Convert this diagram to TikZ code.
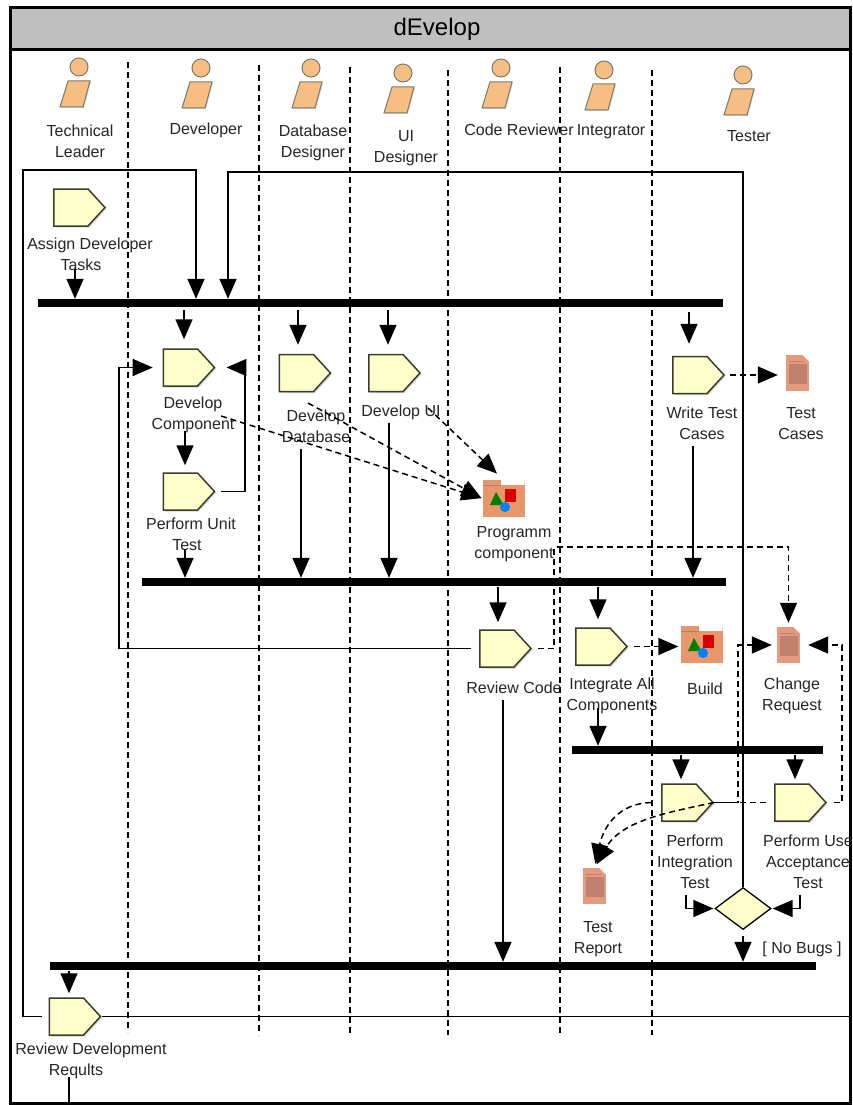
\documentclass[tikz,border=0pt]{standalone}
\usepackage{fontspec}
\setmainfont{Liberation Sans}
\usetikzlibrary{shapes.geometric, shapes.symbols, arrows.meta, shadows}
\definecolor{taskfill}{HTML}{FFFFCC}
\definecolor{taskline}{HTML}{3C3C2C}
\definecolor{actorfill}{HTML}{F6BE82}
\definecolor{actorline}{HTML}{7A7A6A}
\definecolor{docfill}{HTML}{E59A80}
\definecolor{docdark}{HTML}{C08070}
\definecolor{folderfill}{HTML}{E8966A}
\tikzstyle{lane} = [draw=black, line width=1.3pt, dash pattern=on 6pt off 4pt]
\tikzstyle{task} = [signal, signal to=east, signal pointer angle=95, xshift=-8.5pt, minimum width=51, minimum height=37, inner sep=0, draw=taskline, line width=1.5pt, fill=taskfill, drop shadow={opacity=0.3, shadow xshift=1.5pt, shadow yshift=-1.5pt}]
\tikzstyle{bar} = [rectangle, minimum height=8, inner sep=0, fill=black]
\tikzstyle{decision} = [diamond, minimum width=56, minimum height=42, inner sep=0, draw=black, line width=1.3pt, fill=taskfill]
\tikzstyle{lbl} = [align=center, inner sep=0, font=\fontsize{16}{21}\selectfont, text=black!85]
\tikzstyle{edge} = [line width=1.5pt, -{Triangle[width=17pt, length=20pt]}]
\tikzstyle{plain} = [line width=1.5pt]
\tikzstyle{dashedge} = [edge, dash pattern=on 6pt off 4pt]
\tikzstyle{doc} = [rectangle, minimum width=23, minimum height=36, inner sep=0, fill=docfill, path picture={
  \begin{scope}[shift={(path picture bounding box.center)}]
  \fill [white] (4.5,-18.5) -- (12,-18.5) -- (12,-11) -- cycle;
  \draw [docdark, line width=0.7pt] (-9,-12) -- (6,-12);
  \fill [docdark] (-9,-9) rectangle (9,11);
  \end{scope}}]
\tikzstyle{folder} = [rectangle, minimum width=42, minimum height=37, inner sep=0, fill=folderfill, path picture={
  \begin{scope}[shift={(path picture bounding box.center)}]
  \fill [white] (-3,-19) rectangle (22,-13.5);
  \draw [black!45, line width=0.7pt] (-21,-13.5) -- (-3,-13.5);
  \fill [red!85!black] (1.5,-9.5) rectangle (12.5,3.5);
  \fill [green!50!black] (-7.5,-6.5) -- (-13.5,6.5) -- (0,6.5) -- cycle;
  \fill [blue!50!cyan] (1.5,8.5) circle (5);
  \end{scope}}]
\tikzset{actor/.pic={
  \draw [actorline, line width=1pt, fill=actorfill] (0,0) circle (9);
  \draw [actorline, line width=1pt, fill=actorfill, drop shadow={opacity=0.3, shadow xshift=1pt, shadow yshift=-1pt}] (-11,14) -- (11,14) -- (4,40) -- (-19,40) -- cycle;
}}

\begin{document}
\begin{tikzpicture}[x=1pt, y=-1pt]
\useasboundingbox (0,0) rectangle (852,1105);

\node (frame) [rectangle, minimum width=840, minimum height=1095, inner sep=0, draw=black, line width=3pt, fill=white] at (430,555.5) {};
\node (band) [rectangle, minimum width=840, minimum height=42, inner sep=0, draw=black, line width=3pt, fill=black!25, font=\fontsize{24}{28}\selectfont] at (430,29) {\hspace*{14pt}dEvelop};

\foreach \x/\ya/\yb in {128/62/1032, 259/65/1035, 350/67/1035, 448/70/1035, 560/67/1035, 652/70/1035}
  \draw [lane] (\x,\ya) -- (\x,\yb);

\foreach \x/\y in {79/67, 201/68, 311/68, 403/73, 501/68, 604/70, 743/75}
  \pic at (\x,\y) {actor};

\node (leader) [lbl] at (80,141) {Technical\\Leader};
\node (developer) [lbl] at (206,130) {Developer};
\node (dbdesigner) [lbl] at (313,143) {Database\\Designer};
\node (uidesigner) [lbl] at (406,148) {UI\\Designer};
\node (reviewer) [lbl] at (519,130) {Code Reviewer};
\node (integrator) [lbl] at (611,132) {Integrator};
\node (tester) [lbl] at (749,136) {Tester};

\node (bar1) [bar, minimum width=685] at (380.5,303) {};
\node (bar2) [bar, minimum width=584] at (434,582) {};
\node (bar3) [bar, minimum width=251] at (697.5,750) {};
\node (bar4) [bar, minimum width=766] at (433,966) {};

\node (assign) [task] at (79.5,207.5) {};
\node (devcomp) [task] at (189,367.5) {};
\node (unit) [task] at (189,491.5) {};
\node (devdb) [task] at (305,373) {};
\node (devui) [task] at (394.5,373) {};
\node (write) [task] at (698.5,375) {};
\node (revcode) [task] at (505.5,648.5) {};
\node (integ) [task] at (601.5,646.5) {};
\node (perfint) [task] at (687.5,802.5) {};
\node (perfuser) [task] at (800.5,802.5) {};
\node (revdev) [task] at (75,1016.5) {};
\node (decide) [decision] at (743,908.5) {};

\node (cases) [doc] at (797.5,373) {};
\node (change) [doc] at (788.5,645) {};
\node (report) [doc] at (594.5,886) {};
\node (prog) [folder] at (503.5,498.5) {};
\node (build) [folder] at (701.5,644.5) {};

\node (lassign) [lbl] at (90,254.5) {Assign Developer\\\hspace*{-18pt}Tasks};
\node (lcomp) [lbl] at (193,414.5) {Develop\\Component};
\node (lunit) [lbl] at (191,534.5) {Perform Unit\\\hspace*{-8pt}Test};
\node (ldb) [lbl] at (316,426.5) {Develop\\Database};
\node (lui) [lbl] at (401,412) {Develop UI};
\node (lwrite) [lbl] at (702,423.5) {Write Test\\Cases};
\node (lcases) [lbl] at (801,423.5) {Test\\Cases};
\node (lprog) [lbl] at (514,544) {Programm\\component};
\node (lrev) [lbl] at (514,688) {Review Code};
\node (linteg) [lbl] at (612,696) {Integrate All\\Components};
\node (lbuild) [lbl] at (705,689) {Build};
\node (lchange) [lbl] at (792,696) {Change\\Request};
\node (lperfint) [lbl] at (695,862) {Perform\\Integration\\Test};
\node (lperfuser) [lbl] at (808,862) {Perform Use\\Acceptance\\Test};
\node (lreport) [lbl] at (598,939.5) {Test\\Report};
\node (lbugs) [lbl] at (802,949) {[ No Bugs ]};
\node (lrevdev) [lbl] at (91,1060.5) {Review Development\\\hspace*{-30pt}Reqults};

\coordinate (xassign) at (75,0);
\coordinate (xdown) at (69,0);
\coordinate (xleader) at (196,0);
\coordinate (xreturn) at (228,0);
\coordinate (xcomp) at (184,0);
\coordinate (xunit) at (185,0);
\coordinate (xdb) at (298,0);
\coordinate (xdbout) at (301,0);
\coordinate (xui) at (388,0);
\coordinate (xuiout) at (389,0);
\coordinate (xwrite) at (689,0);
\coordinate (xwriteout) at (693,0);
\coordinate (xrev) at (498,0);
\coordinate (xrevout) at (503,0);
\coordinate (xinteg) at (598,0);
\coordinate (xperfint) at (681,0);
\coordinate (xperfuser) at (795,0);
\coordinate (xback) at (119,0);
\coordinate (xloop) at (245,0);
\coordinate (xchangeL) at (738,0);
\coordinate (xchangeR) at (842,0);
\coordinate (cleft) at (23,170);
\coordinate (ctop) at (743,172);
\coordinate (cprog) at (554,547);
\coordinate (dcomp) at (221,416);
\coordinate (ddb) at (308,403);
\coordinate (dbend) at (430,470);
\coordinate (dui) at (428,408);
\coordinate (cintin) at (686,895);
\coordinate (cuserin) at (800,895);

\draw [edge, shorten <=-2pt] (lassign.south -| xassign) -- (bar1.north -| xassign);
\draw [edge, shorten <=7pt] (revdev.west) -| (cleft) -| (bar1.north -| xleader);
\draw [edge] (decide.north) -- (ctop) -| (bar1.north -| xreturn);
\draw [plain, shorten <=1pt] (revdev.east) -- (frame.east |- revdev.east);
\draw [plain, shorten <=-2pt] (lrevdev.south -| xdown) -- (frame.south -| xdown);

\draw [edge, shorten <=3pt, shorten >=9pt] (bar1.south -| xcomp) -- (devcomp.north -| xcomp);
\draw [edge, shorten <=3pt, shorten >=9pt] (bar1.south -| xdb) -- (devdb.north -| xdb);
\draw [edge, shorten <=3pt, shorten >=9pt] (bar1.south -| xui) -- (devui.north -| xui);
\draw [edge, shorten <=5pt, shorten >=12pt] (bar1.south -| xwrite) -- (write.north -| xwrite);
\draw [edge, shorten <=-2pt, shorten >=7pt] (lcomp.south -| xunit) -- (unit.north -| xunit);
\draw [edge, shorten <=-2pt] (lunit.south -| xunit) -- (bar2.north -| xunit);
\draw [edge, shorten <=6pt, shorten >=11pt] (unit.east) -| (xloop |- devcomp.east) -- (devcomp.east);
\draw [edge, shorten <=8pt, shorten >=10pt] (revcode.west) -| (xback |- devcomp.west) -- (devcomp.west);
\draw [edge, shorten <=6pt] (ldb.south -| xdbout) -- (bar2.north -| xdbout);
\draw [edge, shorten <=3pt] (lui.south -| xuiout) -- (bar2.north -| xuiout);
\draw [edge, shorten <=6pt] (lwrite.south -| xwriteout) -- (bar2.north -| xwriteout);

\draw [edge, shorten <=1pt, shorten >=7pt] (bar2.south -| xrev) -- (revcode.north -| xrev);
\draw [edge, shorten <=1pt, shorten >=8pt] (bar2.south -| xinteg) -- (integ.north -| xinteg);
\draw [edge, shorten <=6pt] (lrev.south -| xrevout) -- (bar4.north -| xrevout);
\draw [edge, shorten <=-6pt] (linteg.south -| xinteg) -- (bar3.north -| xinteg);
\draw [edge, shorten <=1pt, shorten >=4pt] (bar3.south -| xperfint) -- (perfint.north -| xperfint);
\draw [edge, shorten <=1pt, shorten >=4pt] (bar3.south -| xperfuser) -- (perfuser.north -| xperfuser);
\draw [edge, shorten >=1pt] (cintin) |- (decide.west);
\draw [edge, shorten >=1pt] (cuserin) |- (decide.east);
\draw [edge, shorten <=6pt] (decide.south) -- (bar4.north -| decide.south);
\draw [edge, shorten <=1pt, shorten >=4pt] (bar4.south -| xdown) -- (revdev.north -| xdown);

\draw [dashedge, shorten <=5pt, shorten >=8pt] (write.east) -- (write.east -| cases.west);
\draw [dashedge, shorten >=1pt] (dcomp) -- (prog.west);
\draw [dashedge, shorten >=1pt] (ddb) -- (dbend) -- (prog.west);
\draw [dashedge, shorten >=9pt] (dui) -- (prog.north);
\draw [dashedge, shorten <=6pt, shorten >=4pt] (revcode.east) -| (cprog) -| (change.north);
\draw [dashedge, shorten <=6pt, shorten >=2pt] (integ.east) -- (integ.east -| build.west);
\draw [dashedge, shorten >=5pt] (perfint.east) -| (xchangeL |- change.west) -- (change.west);
\draw [dashedge, shorten <=7pt, shorten >=8pt] (perfuser.east) -| (xchangeR |- change.east) -- (change.east);
\draw [plain, dash pattern=on 6pt off 4pt, shorten <=8pt] (perfuser.west) -- (perfint.east);
\draw [dashedge, shorten <=10pt, shorten >=4pt] (perfint.west) .. controls (620,803) and (604,825) .. (report.north);
\draw [dashedge, shorten >=4pt] (perfint.east) .. controls (670,812) and (622,820) .. (report.north);

\end{tikzpicture}
\end{document}
